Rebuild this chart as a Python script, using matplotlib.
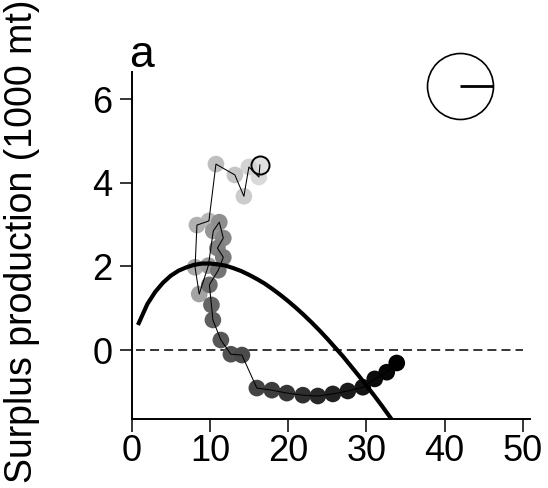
import numpy as np
import matplotlib
matplotlib.use("Agg")
import matplotlib.pyplot as plt

plt.rcParams['font.family'] = ['Liberation Sans', 'DejaVu Sans']

# observed biomass (1000 mt) and surplus production (1000 mt), in time order
biomass = [16.39, 16.26, 14.98, 14.34, 13.19, 10.77, 9.87, 8.34, 8.10, 8.63,
           9.80, 10.43, 11.20, 11.71, 10.96, 11.71, 11.07, 9.93, 10.19, 10.38,
           11.40, 12.68, 14.09, 16.00, 17.92, 19.83, 21.88, 23.79, 25.71,
           27.62, 29.54, 31.07, 32.60, 33.88]
surplus = [4.43, 4.14, 4.38, 3.68, 4.19, 4.45, 3.09, 2.99, 1.98, 1.34,
           2.02, 2.85, 3.06, 2.68, 2.44, 2.22, 1.91, 1.56, 1.08, 0.72,
           0.24, -0.10, -0.12, -0.91, -0.96, -1.03, -1.08, -1.10, -1.05,
           -0.98, -0.89, -0.69, -0.53, -0.31]

# fitted production curve
curve_b = [0.8, 2, 3, 4, 5, 6, 7, 8, 9, 10, 11, 12, 13, 14, 15, 16, 17, 18,
           19, 20, 21, 22, 23, 24, 25, 26, 27, 28, 29, 30, 31, 32, 33, 34]
curve_p = [0.60, 1.10, 1.39, 1.61, 1.78, 1.90, 1.98, 2.04, 2.07, 2.07, 2.05,
           2.02, 1.96, 1.89, 1.80, 1.70, 1.59, 1.46, 1.32, 1.17, 1.01, 0.84,
           0.66, 0.47, 0.27, 0.06, -0.15, -0.38, -0.61, -0.85, -1.09, -1.34,
           -1.60, -1.87]

fig = plt.figure(figsize=(5.48, 4.88), dpi=100)
ax = fig.add_axes([0.2403, 0.1414, 0.7267, 0.7116])

n = len(biomass)
shades = plt.cm.gray(np.linspace(0.88, 0.0, n))
ax.scatter(biomass, surplus, s=12**2, c=shades, edgecolors='none', zorder=2)
ax.plot(biomass, surplus, color='black', lw=0.75, zorder=3)
ax.plot(biomass[0], surplus[0], 'o', ms=13, mfc='none', mec='black', mew=1.4, zorder=4)
ax.plot(curve_b, curve_p, color='black', lw=3, zorder=5, solid_capstyle='butt')
ax.hlines(0, 0.5, 50, colors='black', lw=1.1, linestyles=(0, (5.9, 3.3)), zorder=1)

# clock symbol in the corner
ax.plot(41.93, 6.32, 'o', ms=47.5, mfc='none', mec='black', mew=1.2, clip_on=False)
ax.plot([41.93, 46.14], [6.32, 6.32], color='black', lw=2, clip_on=False, solid_capstyle='butt')

ax.set_xlim(0, 50.9)
ax.set_ylim(-1.65, 6.66)
ax.set_xticks([0, 10, 20, 30, 40, 50])
ax.set_yticks([0, 2, 4, 6])
for s in ['top', 'right']:
    ax.spines[s].set_visible(False)
for s in ['left', 'bottom']:
    ax.spines[s].set_linewidth(1.4)
ax.tick_params(axis='both', direction='out', length=9, width=1.1, labelsize=26)
ax.tick_params(axis='y', pad=5)
ax.tick_params(axis='x', pad=2)

fig.text(22 / 548, 1 - 241 / 488, 'Surplus production (1000 mt)', rotation=90,
         ha='center', va='center', fontsize=27)
fig.text(129 / 548, 1 - 67 / 488, 'a', ha='left', va='baseline', fontsize=32)

fig.savefig('out.png', dpi=100)
